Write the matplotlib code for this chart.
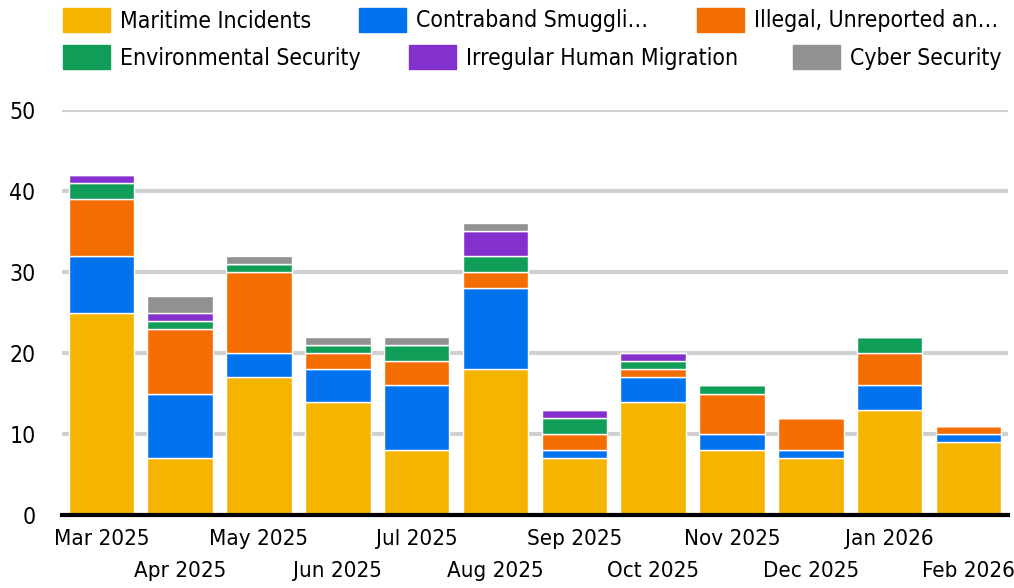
import matplotlib.pyplot as plt
import matplotlib.patches as mpatches
import numpy as np

months = ['Mar 2025', 'Apr 2025', 'May 2025', 'Jun 2025', 'Jul 2025', 'Aug 2025',
          'Sep 2025', 'Oct 2025', 'Nov 2025', 'Dec 2025', 'Jan 2026', 'Feb 2026']

series_names = ['Maritime Incidents', 'Contraband Smuggli…', 'Illegal, Unreported an…',
                'Environmental Security', 'Irregular Human Migration', 'Cyber Security']

maritime = [25, 7, 17, 14, 8, 18, 7, 14, 8, 7, 13, 9]
contraband = [7, 8, 3, 4, 8, 10, 1, 3, 2, 1, 3, 1]
illegal = [7, 8, 10, 2, 3, 2, 2, 1, 5, 4, 4, 1]
environmental = [2, 1, 1, 1, 2, 2, 2, 1, 1, 0, 2, 0]
migration = [1, 1, 0, 0, 0, 3, 1, 1, 0, 0, 0, 0]
cyber = [0, 2, 1, 1, 1, 1, 0, 0, 0, 0, 0, 0]

colors = ['#F4B400', '#0173EE', '#F46D00', '#0F9D58', '#8430CE', '#919191']

plt.rcParams['font.family'] = ['DejaVu Sans']
plt.rcParams['font.stretch'] = 'condensed'

fig = plt.figure(figsize=(10.14, 5.88), dpi=100)
ax = fig.add_axes([0.061, 0.124, 0.933, 0.689])

x = np.arange(len(months))
bottom = np.zeros(len(months))
for vals, c in zip([maritime, contraband, illegal, environmental, migration, cyber], colors):
    ax.bar(x, vals, 0.83, bottom=bottom, color=c, edgecolor='white', linewidth=1, zorder=2)
    bottom += np.array(vals)

ax.set_ylim(0, 50)
ax.set_xlim(-0.5, 11.5)
ax.set_yticks([0, 10, 20, 30, 40, 50])
ax.yaxis.grid(True, color='#d0d0d0', linewidth=3, zorder=0)
ax.set_axisbelow(True)
for s in ['top', 'right', 'left']:
    ax.spines[s].set_visible(False)
ax.spines['bottom'].set_linewidth(3)
ax.spines['bottom'].set_color('black')
ax.spines['bottom'].set_zorder(3)
ax.tick_params(axis='y', length=0, labelsize=16.5, pad=19)

# staggered month labels: even ones on the first row, odd ones below
ax.set_xticks(x[::2])
ax.set_xticklabels(months[::2])
ax.set_xticks(x[1::2], minor=True)
ax.set_xticklabels(months[1::2], minor=True)
ax.tick_params(axis='x', which='major', length=0, labelsize=16, pad=10)
ax.tick_params(axis='x', which='minor', length=0, labelsize=16, pad=33)

# legend, laid out in two rows like the original
rows = [[0, 1, 2], [3, 4, 5]]
row_x = [[63, 359, 697], [63, 409, 793]]
row_y = [8, 45]
for r, idxs in enumerate(rows):
    for k, i in enumerate(idxs):
        px = row_x[r][k]
        py = row_y[r]
        fig.patches.append(mpatches.Rectangle((px / 1014, 1 - (py + 24) / 588), 47 / 1014, 24 / 588,
                                              transform=fig.transFigure, color=colors[i]))
        fig.text((px + 57) / 1014, 1 - (py + 13) / 588, series_names[i], fontsize=16.5,
                 va='center', ha='left')

fig.savefig('out.png', dpi=100)
